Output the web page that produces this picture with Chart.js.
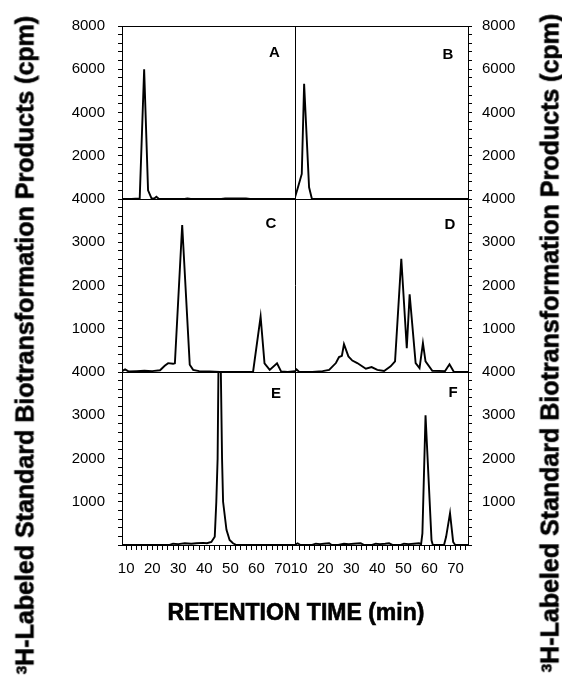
<!DOCTYPE html>
<html>
<head>
<meta charset="utf-8">
<script src="https://cdn.jsdelivr.net/npm/chart.js@4.4.1/dist/chart.umd.min.js"></script>
<style>
  body { margin: 0; background: #fff; }
  #wrap { position: relative; width: 562px; height: 683px; }
  #chart { position: absolute; left: 0; top: 0; }
  .t { position: absolute; white-space: nowrap; color: #000; font-family: "Liberation Sans", Arial, sans-serif; font-weight: bold; transform: translate(-50%, -50%); }
  .heavy { -webkit-text-stroke: 0.6px #000; }
  .ytitle { font-size: 25px; transform: translate(-50%, -50%) rotate(-90deg); }
  .ytitle span { font-size: 0.6em; position: relative; top: -0.48em; }
  .letter { font-size: 15px; }
</style>
</head>
<body>
<div id="wrap">
  <canvas id="chart" width="562" height="683"></canvas>
  <div class="t ytitle heavy" style="left:24.5px;top:345px"><span>3</span>H-Labeled Standard Biotransformation Products (cpm)</div>
  <div class="t ytitle heavy" style="left:550px;top:343px"><span>3</span>H-Labeled Standard Biotransformation Products (cpm)</div>
  <div class="t heavy" style="left:296px;top:612px;font-size:23px">RETENTION TIME (min)</div>
  <div class="t letter" style="left:274.5px;top:51px">A</div>
  <div class="t letter" style="left:448px;top:52.5px">B</div>
  <div class="t letter" style="left:271px;top:221.5px">C</div>
  <div class="t letter" style="left:450px;top:223px">D</div>
  <div class="t letter" style="left:276px;top:392px">E</div>
  <div class="t letter" style="left:453px;top:391px">F</div>
</div>
<script>
// retention time (min) and counts (cpm) for each panel
const timeA = [8.4, 12, 15.2, 16.9, 18.4, 19.7, 20.8, 21.6, 22.6, 32.5, 33.5, 34.8, 46.5, 48, 50, 52, 54, 56, 57.5, 75];
const cpmA  = [0, 0, 30, 6000, 400, 40, 20, 100, 0, 0, 30, 0, 0, 30, 20, 30, 20, 30, 0, 0];

const timeB = [8.2, 9.35, 11.0, 11.9, 13.8, 14.9, 20, 75];
const cpmB  = [0, 460, 1160, 5330, 540, 0, 0, 0];

const timeC = [8.4, 9.6, 11, 14, 17, 20, 23, 24.8, 26.1, 28, 28.7, 31.5, 34.4, 35.7, 38, 42, 46, 50, 55, 58.7, 61.6, 63.1, 65.1, 67.9, 69.5, 72, 75];
const cpmC  = [20, 60, 10, 20, 30, 20, 40, 145, 205, 190, 200, 3400, 170, 50, 20, 10, 0, 0, 0, 0, 1280, 200, 50, 200, 10, 0, 20];

const timeD = [8.2, 9.0, 10, 15, 19, 21.5, 24.1, 25.3, 26.4, 27.2, 28.9, 30.4, 32.3, 35.6, 37.8, 40, 42.6, 45.1, 46.8, 49.2, 51.3, 52.4, 54.7, 56.2, 57.5, 58.5, 61.1, 66, 67.7, 69.4, 75];
const cpmD  = [0, 60, 0, 0, 20, 50, 207, 345, 375, 645, 360, 265, 207, 76, 115, 50, 25, 130, 245, 2620, 550, 1795, 207, 90, 667, 245, 30, 20, 180, 0, 0];

const timeE = [8.4, 20, 26.7, 28, 30, 32.5, 35, 37, 39.5, 41, 42.7, 44.0, 44.6, 45.1, 45.5, 46.2, 46.8, 47.2, 48.5, 49.7, 51, 52.3, 60, 75];
const cpmE  = [0, 0, 0, 30, 20, 40, 30, 40, 50, 40, 70, 190, 1000, 2000, 4600, 4600, 2000, 1000, 350, 115, 40, 0, 0, 0];

const timeF = [8.4, 9.4, 10.5, 12, 15, 16.4, 18, 19.5, 21.5, 22.5, 25, 27.2, 29, 31, 33.6, 35, 38, 39.4, 41, 43, 44.5, 46, 49, 50.2, 52, 54, 56, 56.8, 57.3, 58.5, 60.8, 61.3, 65.6, 66.4, 67.9, 69.1, 69.9, 75];
const cpmF  = [0, 40, 0, 0, 0, 30, 20, 30, 40, 0, 0, 30, 20, 30, 40, 0, 0, 30, 20, 30, 40, 0, 0, 30, 20, 30, 40, 20, 270, 3000, 110, 0, 0, 190, 735, 70, 0, 0];

// axis ticks
const timeTicks = [10, 12, 14, 16, 18, 20, 22, 24, 26, 28, 30, 32, 34, 36, 38, 40, 42, 44, 46, 48, 50, 52, 54, 56, 58, 60, 62, 64, 66, 68, 70, 72, 74];
const timeLabels = [10, 20, 30, 40, 50, 60, 70];
const ticksTop = [0, 400, 800, 1200, 1600, 2000, 2400, 2800, 3200, 3600, 4000, 4400, 4800, 5200, 5600, 6000, 6400, 6800, 7200, 7600, 8000];
const labelsTop = [2000, 4000, 6000, 8000];
const ticksLow = [0, 200, 400, 600, 800, 1000, 1200, 1400, 1600, 1800, 2000, 2200, 2400, 2600, 2800, 3000, 3200, 3400, 3600, 3800, 4000];
const labelsLow = [1000, 2000, 3000, 4000];

const tickFont = { family: '"Liberation Sans", Arial, sans-serif', size: 15 };

function xScale(weight) {
  return {
    type: 'linear', axis: 'x', position: 'bottom', stack: 'time', weight: weight,
    min: 8.4, max: 74.8,
    afterFit: s => { s.height = 138; },
    afterBuildTicks: s => { s.ticks = timeTicks.map(v => ({ value: v })); },
    ticks: {
      autoSkip: false, maxRotation: 0, minRotation: 0, padding: 10, color: '#000', font: tickFont,
      callback: v => timeLabels.includes(v) ? String(v) : ''
    },
    grid: { drawOnChartArea: false, drawTicks: true, tickLength: 5, color: '#000', tickWidth: 1 },
    border: { display: true, color: '#000', width: 1 }
  };
}

function yScale(pos, weight, max, ticks, labels) {
  return {
    type: 'linear', axis: 'y', position: pos, stack: pos, weight: weight,
    min: 0, max: max,
    afterFit: s => { s.width = pos === 'left' ? 122 : 94; },
    afterBuildTicks: s => { s.ticks = ticks.map(v => ({ value: v })); },
    ticks: {
      autoSkip: false, padding: pos === 'left' ? 13 : 10, color: '#000', font: tickFont,
      callback: v => labels.includes(v) ? String(v) : ''
    },
    grid: { drawOnChartArea: false, drawTicks: true, tickLength: 4, color: '#000', tickWidth: 1 },
    border: { display: true, color: '#000', width: 1 }
  };
}

function trace(times, cpm, xId, yId) {
  return {
    data: times.map((t, i) => ({ x: t, y: cpm[i] })),
    xAxisID: xId, yAxisID: yId,
    borderColor: '#000', borderWidth: 1.9,
    pointRadius: 0, tension: 0, fill: false,
    clip: { left: 0, right: 0, top: 0, bottom: 2 }
  };
}

const frame = {
  id: 'frame',
  beforeDatasetsDraw(chart) {
    const { ctx, chartArea: a, scales: s } = chart;
    ctx.save();
    ctx.strokeStyle = '#000';
    ctx.lineWidth = 1;
    ctx.beginPath();
    [s.yA.top, s.yC.top, s.yE.top].forEach(y => {
      const py = Math.round(y) + 0.5;
      ctx.moveTo(a.left, py); ctx.lineTo(a.right, py);
    });
    const mx = Math.round(s.xL.right) + 0.5;
    ctx.moveTo(mx, a.top); ctx.lineTo(mx, a.bottom);
    ctx.stroke();
    ctx.restore();
  }
};

new Chart(document.getElementById('chart'), {
  type: 'line',
  data: {
    datasets: [
      trace(timeA, cpmA, 'xL', 'yA'),
      trace(timeB, cpmB, 'xR', 'yB'),
      trace(timeC, cpmC, 'xL', 'yC'),
      trace(timeD, cpmD, 'xR', 'yD'),
      trace(timeE, cpmE, 'xL', 'yE'),
      trace(timeF, cpmF, 'xR', 'yF')
    ]
  },
  options: {
    responsive: false,
    animation: false,
    layout: { padding: { top: 26, left: 0, right: 0, bottom: 0 } },
    plugins: { legend: { display: false }, tooltip: { enabled: false } },
    scales: {
      xL: xScale(1),
      xR: xScale(2),
      yA: yScale('left', 3, 8000, ticksTop, labelsTop),
      yC: yScale('left', 2, 4000, ticksLow, labelsLow),
      yE: yScale('left', 1, 4000, ticksLow, labelsLow),
      yB: yScale('right', 1, 8000, ticksTop, labelsTop),
      yD: yScale('right', 2, 4000, ticksLow, labelsLow),
      yF: yScale('right', 3, 4000, ticksLow, labelsLow)
    }
  },
  plugins: [frame]
});
</script>
</body>
</html>
